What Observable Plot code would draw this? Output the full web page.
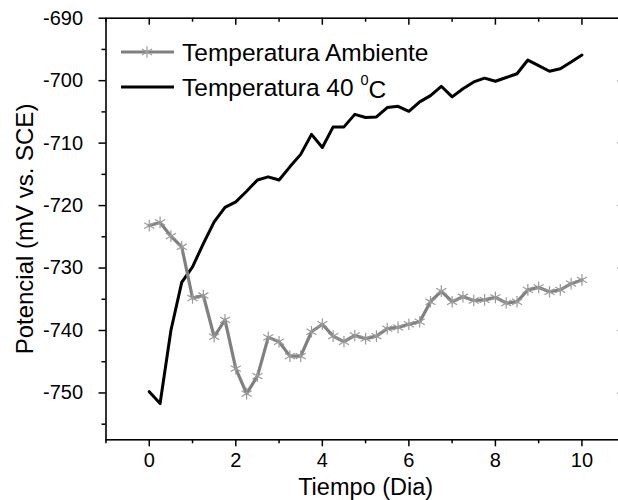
<!DOCTYPE html>
<html><head><meta charset="utf-8">
<script src="https://cdn.jsdelivr.net/npm/d3@7"></script>
<script src="https://cdn.jsdelivr.net/npm/@observablehq/plot@0.6"></script>
<style>html,body{margin:0;padding:0;overflow:hidden;background:#fff}</style>
</head><body><div id="chart"></div>
<script>
const days = [0,0.25,0.5,0.75,1,1.25,1.5,1.75,2,2.25,2.5,2.75,3,3.25,3.5,3.75,4,4.25,4.5,4.75,5,5.25,5.5,5.75,6,6.25,6.5,6.75,7,7.25,7.5,7.75,8,8.25,8.5,8.75,9,9.25,9.5,9.75,10];
const ambiente = [-723.2,-722.7,-724.9,-726.6,-734.8,-734.4,-741.0,-738.3,-746.1,-750.1,-747.3,-741.1,-741.8,-744.1,-744.1,-740.2,-739.0,-740.9,-741.8,-740.8,-741.3,-740.9,-739.7,-739.5,-739.0,-738.6,-735.4,-733.7,-735.4,-734.6,-735.2,-735.1,-734.7,-735.6,-735.4,-733.5,-733.1,-733.8,-733.5,-732.5,-731.9];
const cuarenta = [-749.8,-751.7,-740.0,-732.3,-729.8,-726.1,-722.6,-720.3,-719.4,-717.7,-715.9,-715.4,-715.9,-713.8,-711.8,-708.6,-710.7,-707.4,-707.4,-705.4,-705.9,-705.8,-704.3,-704.1,-704.9,-703.4,-702.4,-700.9,-702.6,-701.3,-700.2,-699.6,-700.1,-699.5,-698.9,-696.7,-697.6,-698.5,-698.1,-697.0,-695.9];
const seriesNames = ["Temperatura Ambiente", "Temperatura 40 ", "0", "C"];
const xTitle = "Tiempo (Dia)";
const yTitle = "Potencial (mV vs. SCE)";
const xTicks = [0,2,4,6,8,10];
const xMinor = [-1,1,3,5,7,9];
const yTicks = [-750,-740,-730,-720,-710,-700,-690];
const yMinor = [-755,-745,-735,-725,-715,-705,-695];

const W = 618, H = 500;
const mL = 105.5, mR = -6.7, mT = 17.7, mB = 60.7;
const fw = W - mL - mR, fh = H - mT - mB;
const font = "'Liberation Sans', Arial, sans-serif";
const grayLine = "#808080", grayMark = "#9a9a9a";

const dataA = days.map((d,i) => ({d, v: ambiente[i]}));
const dataB = days.map((d,i) => ({d, v: cuarenta[i]}));

const plot = Plot.plot({
  width: W, height: H,
  marginLeft: mL, marginRight: mR, marginTop: mT, marginBottom: mB,
  style: {fontFamily: font, fontSize: "20px", background: "#fff", color: "#000", overflow: "hidden"},
  x: {domain: [-1, 11]},
  y: {domain: [-757.5, -690]},
  marks: [
    Plot.line(dataB, {x: "d", y: "v", stroke: "#000", strokeWidth: 3}),
    Plot.line(dataA, {x: "d", y: "v", stroke: grayLine, strokeWidth: 3.2}),
    Plot.dot(dataA, {x: "d", y: "v", symbol: "asterisk", r: 5.5, stroke: grayMark, strokeWidth: 1.2}),
    Plot.frame({stroke: "#000", strokeWidth: 1.6}),
    Plot.axisX(xTicks, {anchor: "bottom", tickSize: 7, tickPadding: 6, strokeWidth: 1.5, fontSize: 20, tickFormat: d => String(d), label: null}),
    Plot.axisX(xMinor, {anchor: "bottom", tickSize: 4, strokeWidth: 1.5, tickFormat: () => "", label: null}),
    Plot.axisY(yTicks, {anchor: "left", tickSize: 7, tickPadding: 16, strokeWidth: 1.5, fontSize: 20, tickFormat: d => String(d), label: null}),
    Plot.axisY(yMinor, {anchor: "left", tickSize: 4, strokeWidth: 1.5, tickFormat: () => "", label: null}),
    Plot.tickX(xTicks, {x: d => d, insetBottom: fh - 7, stroke: "#000", strokeWidth: 1.5}),
    Plot.tickX(xMinor, {x: d => d, insetBottom: fh - 4, stroke: "#000", strokeWidth: 1.5}),
    Plot.tickY(yTicks, {y: d => d, insetLeft: fw - 7, stroke: "#000", strokeWidth: 1.5}),
    Plot.tickY(yMinor, {y: d => d, insetLeft: fw - 4, stroke: "#000", strokeWidth: 1.5}),
    Plot.text([xTitle], {frameAnchor: "bottom", dy: 47.5, lineAnchor: "middle", textAnchor: "middle", fontSize: 23.5, text: d => d, fill: "#000"}),
    Plot.text([yTitle], {frameAnchor: "left", dx: -81, rotate: -90, textAnchor: "middle", lineAnchor: "middle", fontSize: 24, text: d => d, fill: "#000"})
  ]
});

const svg = d3.select(plot);
const lg = svg.append("g").style("font-family", font).style("font-size", "24.5px").attr("fill", "#000").attr("text-anchor", "start");
lg.append("line").attr("x1", 121).attr("x2", 174).attr("y1", 52).attr("y2", 52).attr("stroke", grayLine).attr("stroke-width", 3.2);
lg.append("path").attr("d", d3.symbol(d3.symbolAsterisk, 5.5*5.5*Math.PI)()).attr("transform", "translate(147,52)").attr("stroke", grayMark).attr("stroke-width", 1.2).attr("fill", "none");
lg.append("text").attr("x", 182).attr("y", 52).attr("dy", "0.35em").text(seriesNames[0]);
lg.append("line").attr("x1", 121).attr("x2", 174).attr("y1", 87).attr("y2", 87).attr("stroke", "#000").attr("stroke-width", 3);
const t2 = lg.append("text").attr("x", 182).attr("y", 87).attr("dy", "0.35em");
t2.append("tspan").text(seriesNames[1]);
t2.append("tspan").style("font-size", "14.5px").attr("dy", "-0.75em").text(seriesNames[2]);
t2.append("tspan").attr("dy", "0.55em").text(seriesNames[3]);

document.getElementById("chart").appendChild(plot);
</script>
</body></html>
